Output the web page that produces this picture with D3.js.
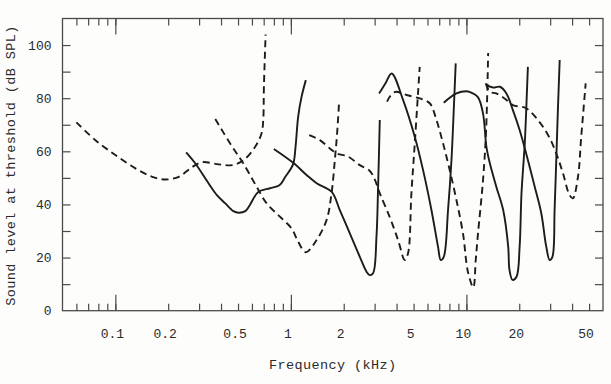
<!DOCTYPE html>
<html>
<head>
<meta charset="utf-8">
<script src="https://cdn.jsdelivr.net/npm/d3@7"></script>
<style>
    body { margin: 0; background: #fdfdfc; }
    svg text { font-family: "Liberation Mono", "DejaVu Sans Mono", monospace; fill: #2b2b2b; }
</style>
</head>
<body>
<div id="chart"></div>
<script>
// Ejes: etiquetas de las marcas
const xLabels = [0.1, 0.2, 0.5, 1, 2, 5, 10, 20, 50];
const xMajor = [0.1, 1, 10];
const yLabels = [0, 20, 40, 60, 80, 100];
const yTicks = [10, 20, 30, 40, 50, 60, 70, 80, 90, 100];

// Curvas de umbral: [frecuencia kHz, nivel dB SPL]
const curve1 = [[0.06,70.9],[0.077,64.2],[0.1,58.6],[0.13,53.6],[0.162,50.4],[0.193,49.4],[0.23,50.4],
    [0.273,54.0],[0.311,55.9],[0.388,55.1],[0.462,54.8],[0.538,56.7],[0.626,61.7],[0.681,66.8],
    [0.696,71.8],[0.702,84.3],[0.718,104]];
const curve2 = [[0.253,59.6],[0.285,55.5],[0.34,47.9],[0.379,43.5],[0.423,40.4],[0.47,37.5],[0.504,36.9],
    [0.55,37.5],[0.584,39.8],[0.65,44.6],[0.76,46.1],[0.86,47.2],[0.93,50.4],[1.03,55.2],[1.063,61.7],
    [1.10,73.0],[1.15,80.5],[1.217,86.8]];
const curve3 = [[0.371,72.2],[0.45,63.0],[0.535,55.5],[0.638,46.7],[0.728,40.4],[0.866,35.4],[1.009,31.0],
    [1.10,26.0],[1.217,22.0],[1.401,26.6],[1.597,34.1],[1.705,44.2],[1.78,56.7],[1.834,66.8],[1.883,78.7]];
const curve4 = [[0.80,60.9],[1.04,55.5],[1.228,51.1],[1.401,48.0],[1.705,44.8],[1.90,37.9],[2.167,29.1],
    [2.47,20.3],[2.697,14.7],[2.81,13.4],[2.94,14.1],[3.074,27.9],[3.14,46.7],[3.21,71.8]];
const curve5 = [[1.272,66.1],[1.463,64.2],[1.667,61.1],[1.82,59.2],[2.12,58.0],[2.47,54.8],[2.81,52.7],
    [3.0,49.5],[3.21,44.2],[3.65,35.4],[4.08,26.6],[4.455,19.1],[4.65,21.6],[4.86,44.2],[5.08,63.0],
    [5.30,81.8],[5.42,91.8]];
const curve6 = [[3.18,81.8],[3.46,85.6],[3.75,89.3],[4.36,79.3],[5.08,65.5],[5.66,53.0],[6.32,37.9],
    [6.89,24.1],[7.14,19.1],[7.43,20.3],[7.86,37.9],[8.22,56.7],[8.47,75.5],[8.69,93.1]];
const curve7 = [[3.53,78.7],[3.7,81.0],[3.95,82.4],[4.56,81.2],[5.42,79.9],[6.18,78.1],[6.75,71.8],
    [7.36,63.0],[8.03,53.0],[8.77,41.7],[9.56,29.1],[10.21,14.5],[10.95,8.8],[11.3,19.0],[11.64,29.0],
    [12.43,49.0],[12.95,68.0],[13.3,97]];
const curve8 = [[7.43,78.3],[8.77,81.8],[10.0,82.6],[10.4,82.4],[11.6,80.5],[12.43,74.3],[13.0,61.7],
    [13.6,55.5],[14.8,46.7],[16.2,37.9],[17.3,24.1],[17.6,15.3],[18.3,11.6],[19.3,12.8],[20.1,24.1],
    [20.6,44.2],[21.5,63.0],[22.1,81.8],[22.4,91.8]];
const curve9 = [[12.88,85.6],[13.6,82.4],[14.8,81.8],[16.5,79.9],[18.4,77.4],[21.9,76.2],[26.1,71.0],
    [29.8,65.0],[33.0,58.0],[35.5,51.7],[38.7,43.5],[40.4,42.3],[43.2,50.4],[45.1,65.5],[47.8,85.6]];
const curve10 = [[13.0,84.9],[14.2,84.0],[15.5,84.3],[16.9,81.8],[18.4,75.5],[20.1,68.0],[21.9,59.2],
    [24.5,46.7],[26.7,36.7],[28.5,24.1],[29.8,19.1],[30.9,20.3],[31.8,37.9],[32.5,56.7],[33.2,75.5],[34.0,94.4]];

function renderChart() {
    const width = 611;
    const height = 384;
    const margin = { top: 18.5, right: 8, bottom: 73.3, left: 62.5 };
    const innerWidth = width - margin.left - margin.right;
    const innerHeight = height - margin.top - margin.bottom;

    const svg = d3.select("#chart")
        .append("svg")
        .attr("width", width)
        .attr("height", height);

    const g = svg.append("g")
        .attr("transform", `translate(${margin.left},${margin.top})`);

    // Escalas
    const x = d3.scaleLog().domain([0.05, 60]).range([0, innerWidth]);
    const y = d3.scaleLinear().domain([0, 110]).range([innerHeight, 0]);

    const frameColor = "#4a4a4a";
    const minor = x.ticks().filter(v => v > 0.051 && v < 59);

    // Marcas del eje X (abajo y arriba, hacia dentro)
    const addAxis = (axis, tr) => {
        const a = g.append("g").attr("transform", tr).call(axis);
        a.select(".domain").remove();
        a.selectAll("line").attr("stroke", frameColor).attr("stroke-width", 1.2);
        a.selectAll("text").remove();
    };
    addAxis(d3.axisBottom(x).tickValues(minor).tickSize(-7), `translate(0,${innerHeight})`);
    addAxis(d3.axisBottom(x).tickValues(xMajor).tickSize(-16), `translate(0,${innerHeight})`);
    addAxis(d3.axisTop(x).tickValues(minor).tickSize(-7), "translate(0,0)");
    addAxis(d3.axisTop(x).tickValues(xMajor).tickSize(-16), "translate(0,0)");
    addAxis(d3.axisLeft(y).tickValues(yTicks).tickSize(-8), "translate(0,0)");
    addAxis(d3.axisRight(y).tickValues(yTicks).tickSize(-8), `translate(${innerWidth},0)`);

    // Marco
    g.append("rect")
        .attr("width", innerWidth)
        .attr("height", innerHeight)
        .attr("fill", "none")
        .attr("stroke", frameColor)
        .attr("stroke-width", 1.3);

    // Etiquetas de los ejes
    g.selectAll(".xl")
        .data(xLabels)
        .enter()
        .append("text")
        .attr("x", d => x(d) - 3)
        .attr("y", innerHeight + 27.5)
        .attr("text-anchor", "middle")
        .attr("font-size", 13)
        .text(d => d);

    g.selectAll(".yl")
        .data(yLabels)
        .enter()
        .append("text")
        .attr("x", -11)
        .attr("y", d => y(d))
        .attr("dy", "0.36em")
        .attr("text-anchor", "end")
        .attr("font-size", 13)
        .text(d => d);

    g.append("text")
        .attr("x", innerWidth / 2)
        .attr("y", innerHeight + 58)
        .attr("text-anchor", "middle")
        .attr("font-size", 13.5)
        .attr("letter-spacing", 0.4)
        .text("Frequency (kHz)");

    g.append("text")
        .attr("transform", "rotate(-90)")
        .attr("x", -innerHeight / 2 - 1)
        .attr("y", -48)
        .attr("text-anchor", "middle")
        .attr("font-size", 13.5)
        .attr("letter-spacing", 0.4)
        .text("Sound level at threshold (dB SPL)");

    // Curvas
    const line = d3.line()
        .x(d => x(d[0]))
        .y(d => y(d[1]))
        .curve(d3.curveCatmullRom.alpha(0.5));

    const series = [
        [curve1, true], [curve2, false], [curve3, true], [curve4, false], [curve5, true],
        [curve6, false], [curve7, true], [curve8, false], [curve9, true], [curve10, false]
    ];

    g.selectAll(".curve")
        .data(series)
        .enter()
        .append("path")
        .attr("class", "curve")
        .attr("d", d => line(d[0]))
        .attr("fill", "none")
        .attr("stroke", "#1c1c1c")
        .attr("stroke-width", 1.9)
        .attr("stroke-dasharray", d => d[1] ? "7,4.5" : null);
}

document.addEventListener("DOMContentLoaded", renderChart);
</script>
</body>
</html>
